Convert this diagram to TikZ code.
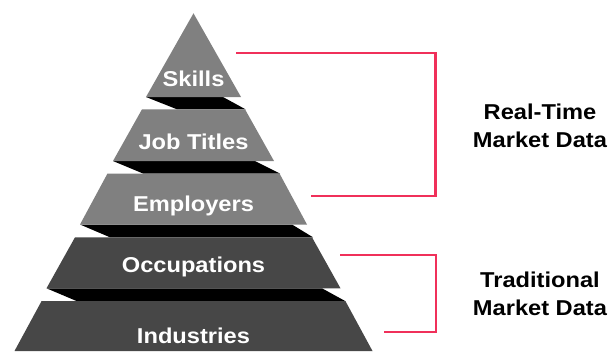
\documentclass[tikz,border=0pt]{standalone}
\usepackage{fontspec}
\setmainfont{Liberation Sans}[FakeStretch=1.1]
\begin{document}
\begin{tikzpicture}[x=1pt,y=-1pt,
  lightTier/.style={fill=tierLight},
  darkTier/.style={fill=tierDark},
  shadowBand/.style={fill=black},
  tierLabel/.style={text=white,font=\fontsize{21.5}{24}\selectfont\bfseries,inner sep=0pt},
  sideLabel/.style={text=black,font=\fontsize{21.5}{28.5}\selectfont\bfseries,align=center,inner sep=0pt},
  bracket/.style={draw=bracketRed,line width=2.2pt}]
\definecolor{tierLight}{HTML}{808080}
\definecolor{tierDark}{HTML}{474747}
\definecolor{bracketRed}{HTML}{F0305A}
\useasboundingbox (0,0) rectangle (608,351);

% dark bands between the tiers (drawn first, tiers cover them)
\fill[shadowBand] (146,97) -- (223,97) -- (245.5,109.3) -- (177,109.3) -- cycle;
\fill[shadowBand] (113,161) -- (255,161) -- (280,173.5) -- (143,173.5) -- cycle;
\fill[shadowBand] (80,224.5) -- (292,224.5) -- (313,237.3) -- (110,237.3) -- cycle;
\fill[shadowBand] (46.5,288.3) -- (322,288.3) -- (345.5,301.2) -- (77,301.2) -- cycle;

% tiers
\fill[lightTier] (193.5,13.3) -- (241,97) -- (146,97) -- cycle;
\fill[lightTier] (142,109.3) -- (245,109.3) -- (274,161) -- (113,161) -- cycle;
\fill[lightTier] (107.5,173.5) -- (279.5,173.5) -- (307,224.5) -- (80,224.5) -- cycle;
\fill[darkTier] (75,237.3) -- (312,237.3) -- (340.5,288.3) -- (46.5,288.3) -- cycle;
\fill[darkTier] (41.5,301.2) -- (345.5,301.2) -- (372.5,351) -- (14.5,351) -- cycle;

% tier labels
\node[tierLabel] (skills) at (193.5,79) {Skills};
\node[tierLabel] (jobs) at (193.5,141.7) {Job Titles};
\node[tierLabel] (employers) at (193.5,206) {Employers};
\node[tierLabel] (occupations) at (193.5,266.7) {Occupations};
\node[tierLabel] (industries) at (193.5,335.7) {Industries};

% side labels
\node[sideLabel] (realtime) at (540,126) {Real-Time\\Market Data};
\node[sideLabel] (traditional) at (540,294) {Traditional\\Market Data};

% brackets
\coordinate (rtTop) at (236,53.3);
\coordinate (rtBottom) at (311,195.7);
\coordinate (trTop) at (340,255);
\coordinate (trBottom) at (384,332.3);
\draw[bracket] (rtTop) -- (435.5,53.3) -- (435.5,195.7) -- (rtBottom);
\draw[bracket] (trTop) -- (436,255) -- (436,332.3) -- (trBottom);
\end{tikzpicture}
\end{document}
